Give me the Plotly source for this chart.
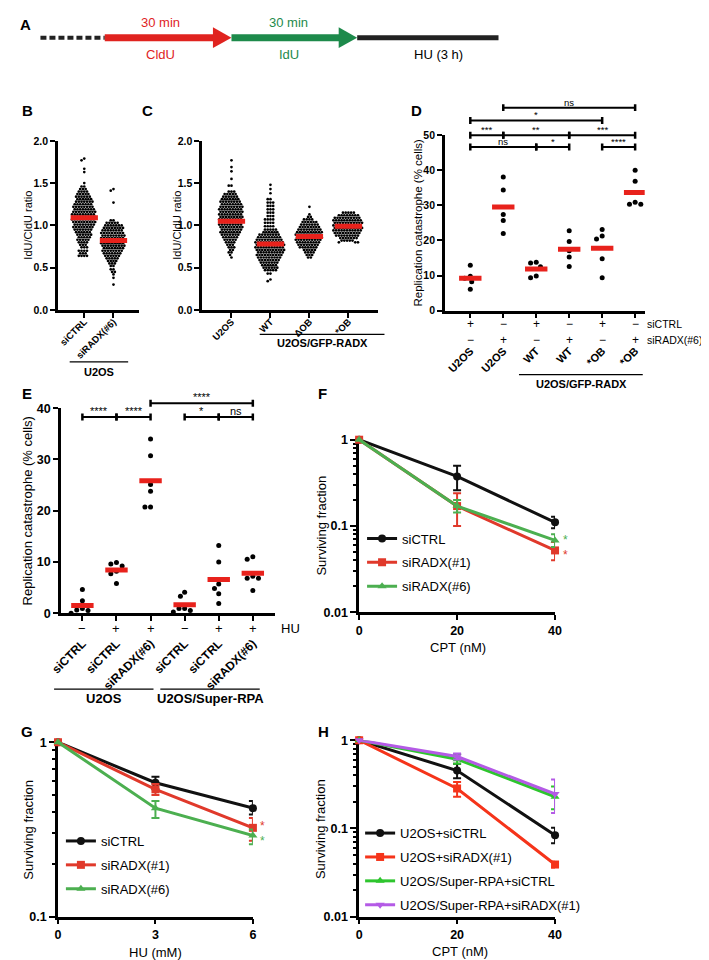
import numpy as np
import plotly.graph_objects as go

W, H = 709, 960
FONT = "Arial, Liberation Sans, Helvetica, sans-serif"

# ======================= DATA =======================
# Panel A - labelling scheme
A_pulse_names = ["CldU", "IdU", "HU (3 h)"]
A_pulse_times = ["30 min", "30 min"]

# Panel B - IdU/CldU ratio, rows of the dot plot: (ratio, number of fibres in the row)
B_categories = ["siCTRL", "siRADX(#6)"]
B_group = "U2OS"
B_siCTRL_rows = [(1.79, 1), (1.77, 1), (1.67, 1), (1.63, 1), (1.50, 1), (1.46, 2), (1.43, 3), (1.40, 4),
                 (1.37, 5), (1.34, 6), (1.31, 6), (1.28, 7), (1.25, 7), (1.22, 8), (1.19, 8), (1.16, 9),
                 (1.13, 9), (1.10, 9), (1.07, 9), (1.04, 9), (1.01, 8), (0.98, 8), (0.95, 7), (0.92, 6),
                 (0.89, 6), (0.86, 5), (0.83, 5), (0.80, 4), (0.77, 3), (0.74, 3), (0.70, 4), (0.67, 3),
                 (0.64, 4)]
B_siRADX6_rows = [(1.43, 1), (1.41, 1), (1.27, 1), (1.06, 2), (1.03, 5), (1.00, 7), (0.97, 8), (0.94, 8),
                  (0.91, 9), (0.88, 9), (0.85, 9), (0.82, 9), (0.79, 9), (0.76, 9), (0.73, 8), (0.70, 8),
                  (0.67, 7), (0.64, 6), (0.61, 5), (0.58, 4), (0.55, 3), (0.52, 2), (0.48, 2), (0.45, 2),
                  (0.42, 1), (0.38, 1), (0.30, 1)]
B_means = [1.09, 0.82]

# Panel C
C_categories = ["U2OS", "WT", "ΔOB", "*OB"]
C_group = "U2OS/GFP-RADX"
C_U2OS_rows = [(1.77, 1), (1.69, 1), (1.64, 1), (1.55, 1), (1.47, 2), (1.40, 3), (1.37, 5), (1.34, 6),
               (1.31, 7), (1.28, 8), (1.25, 8), (1.22, 9), (1.19, 9), (1.16, 9), (1.13, 9), (1.10, 9),
               (1.07, 9), (1.04, 9), (1.01, 9), (0.98, 9), (0.95, 8), (0.92, 8), (0.89, 7), (0.86, 6),
               (0.83, 5), (0.80, 4), (0.77, 3), (0.74, 3), (0.71, 2), (0.68, 2), (0.65, 1), (0.62, 1)]
C_WT_rows = [(1.48, 1), (1.43, 1), (1.38, 1), (1.31, 2), (1.27, 3), (1.23, 3), (1.19, 3), (1.15, 3),
             (1.11, 3), (1.07, 4), (1.03, 4), (0.99, 4), (0.95, 5), (0.92, 6), (0.89, 8), (0.86, 9),
             (0.83, 10), (0.80, 11), (0.77, 11), (0.74, 11), (0.71, 11), (0.68, 10), (0.65, 10), (0.62, 9),
             (0.59, 8), (0.56, 7), (0.53, 6), (0.50, 6), (0.47, 5), (0.43, 2), (0.36, 1), (0.34, 1)]
C_dOB_rows = [(1.22, 1), (1.13, 1), (1.10, 2), (1.07, 4), (1.04, 6), (1.01, 7), (0.98, 8), (0.95, 9),
              (0.92, 10), (0.89, 10), (0.86, 10), (0.83, 10), (0.80, 9), (0.77, 8), (0.74, 7), (0.71, 5),
              (0.68, 4), (0.65, 3), (0.62, 2)]
C_sOB_rows = [(1.15, 5), (1.12, 8), (1.09, 10), (1.06, 11), (1.03, 11), (1.00, 11), (0.97, 11), (0.94, 11),
              (0.91, 10), (0.88, 9), (0.85, 7), (0.82, 5), (0.80, 3)]
C_means = [1.05, 0.78, 0.87, 0.99]

# Panel D - replication catastrophe (% cells)
D_categories = ["U2OS", "U2OS", "WT", "WT", "*OB", "*OB"]
D_group = "U2OS/GFP-RADX"
D_siCTRL = ["+", "−", "+", "−", "+", "−"]
D_siRADX6 = ["−", "+", "−", "+", "−", "+"]
D_U2OS_ctrl = [12.9, 9.8, 9.2, 8.2, 6.1]
D_U2OS_radx = [38.1, 34.4, 27.4, 25.7, 22.0]
D_WT_ctrl = [13.6, 13.8, 12.5, 9.9, 9.4]
D_WT_radx = [22.8, 19.7, 17.1, 15.3, 12.6]
D_sOB_ctrl = [23.1, 21.3, 20.4, 14.8, 9.4]
D_sOB_radx = [40.0, 36.9, 30.9, 30.3, 30.3]
D_sig_pairs = [(0, 1), (1, 3), (3, 5), (0, 2), (2, 3), (4, 5), (0, 4), (1, 5)]
D_sig_labels = ["***", "**", "***", "ns", "*", "****", "*", "ns"]
D_sig_tier = [1, 1, 1, 0, 0, 0, 2, 3]

# Panel E
E_categories = ["siCTRL", "siCTRL", "siRADX(#6)", "siCTRL", "siCTRL", "siRADX(#6)"]
E_HU = ["−", "+", "+", "−", "+", "+"]
E_groups = ["U2OS", "U2OS/Super-RPA"]
E_U2OS_ctrl_noHU = [4.6, 2.4, 0.9, 0.6, 0.5, 0.0]
E_U2OS_ctrl_HU = [9.9, 9.6, 9.2, 8.2, 7.7, 5.8]
E_U2OS_radx_HU = [34.0, 30.7, 25.1, 23.8, 20.7, 20.7]
E_SRPA_ctrl_noHU = [4.1, 3.3, 0.9, 0.9, 0.5, 0.2]
E_SRPA_ctrl_HU = [13.2, 10.0, 5.7, 4.8, 3.8, 1.9]
E_SRPA_radx_HU = [11.0, 10.5, 7.2, 6.8, 6.8, 4.4]
E_sig_pairs = [(2, 5), (0, 1), (1, 2), (3, 4), (4, 5)]
E_sig_labels = ["****", "****", "****", "*", "ns"]
E_sig_tier = [1, 0, 0, 0, 0]

# Panel F - clonogenic survival, CPT
F_dose = [0, 20, 40]
F_siCTRL = [1, 0.375, 0.11]
F_siCTRL_up = [0, 0.125, 0.018]
F_siCTRL_dn = [0, 0.115, 0.016]
F_siRADX1 = [1, 0.17, 0.052]
F_siRADX1_up = [0, 0.07, 0.013]
F_siRADX1_dn = [0, 0.07, 0.012]
F_siRADX6 = [1, 0.17, 0.068]
F_siRADX6_up = [0, 0.03, 0.012]
F_siRADX6_dn = [0, 0.027, 0.011]
F_names = ["siCTRL", "siRADX(#1)", "siRADX(#6)"]

# Panel G - clonogenic survival, HU
G_dose = [0, 3, 6]
G_siCTRL = [1, 0.586, 0.419]
G_siCTRL_up = [0, 0.048, 0.042]
G_siCTRL_dn = [0, 0.049, 0.034]
G_siRADX1 = [1, 0.537, 0.323]
G_siRADX1_up = [0, 0.04, 0.045]
G_siRADX1_dn = [0, 0.038, 0.051]
G_siRADX6 = [1, 0.419, 0.292]
G_siRADX6_up = [0, 0.042, 0.024]
G_siRADX6_dn = [0, 0.051, 0.032]
G_names = ["siCTRL", "siRADX(#1)", "siRADX(#6)"]

# Panel H - clonogenic survival, CPT, Super-RPA
H_dose = [0, 20, 40]
H_U2OS_ctrl = [1, 0.454, 0.084]
H_U2OS_ctrl_up = [0, 0.086, 0.018]
H_U2OS_ctrl_dn = [0, 0.084, 0.016]
H_U2OS_radx = [1, 0.284, 0.039]
H_U2OS_radx_up = [0, 0.052, 0.003]
H_U2OS_radx_dn = [0, 0.055, 0.003]
H_SRPA_ctrl = [1, 0.61, 0.229]
H_SRPA_ctrl_up = [0, 0.09, 0.071]
H_SRPA_ctrl_dn = [0, 0.07, 0.064]
H_SRPA_radx = [1, 0.655, 0.246]
H_SRPA_radx_up = [0, 0.055, 0.114]
H_SRPA_radx_dn = [0, 0.05, 0.096]
H_names = ["U2OS+siCTRL", "U2OS+siRADX(#1)", "U2OS/Super-RPA+siCTRL", "U2OS/Super-RPA+siRADX(#1)"]

# ======================= LAYOUT / STYLE =======================
RED_BAR = "#e8221c"
P = {
    "B": dict(n=1, x=(40, 123), y=(299.3, 127.7), xr=[-0.9, 1.87], yr=[0, 2.0]),
    "C": dict(n=2, x=(188, 368), y=(299.3, 127.7), xr=[-0.75, 3.75], yr=[0, 2.0]),
    "D": dict(n=3, x=(437, 642), y=(300, 122), xr=[-0.77, 5.29], yr=[0, 50]),
    "E": dict(n=4, x=(43, 263), y=(607, 399), xr=[-0.63, 5.66], yr=[0, 40]),
    "F": dict(n=5, x=(349, 550), y=(606, 431), xr=[0, 40], yr=[-2, 0]),
    "G": dict(n=6, x=(40, 240), y=(915, 738), xr=[0, 6], yr=[-1, 0]),
    "H": dict(n=7, x=(349, 550), y=(915, 736), xr=[0, 40], yr=[-2, 0]),
}


def ax(n, c):
    return c if n == 1 else f"{c}{n}"


def xs(p):
    return (p["x"][1] - p["x"][0]) / (p["xr"][1] - p["xr"][0])


def ys(p):
    return (p["y"][0] - p["y"][1]) / (p["yr"][1] - p["yr"][0])


def fnt(size, bold=False, color="black"):
    return dict(family=FONT, size=size, color=color, weight="bold" if bold else "normal")


layout = dict(width=W, height=H, margin=dict(l=0, r=0, t=0, b=0, pad=0),
              paper_bgcolor="white", plot_bgcolor="rgba(0,0,0,0)",
              font=dict(family=FONT, color="black", size=12), hovermode=False,
              shapes=[], annotations=[])


def base_axis():
    return dict(showline=True, linecolor="black", linewidth=2.5, ticks="outside",
                tickcolor="black", tickwidth=2, ticklen=5, showgrid=False,
                zeroline=False, fixedrange=True, layer="below traces")


for key, p in P.items():
    n = p["n"]
    xa = base_axis()
    ya = base_axis()
    xa.update(domain=[p["x"][0] / W, p["x"][1] / W], range=p["xr"], anchor=ax(n, "y"))
    ya.update(domain=[1 - p["y"][0] / H, 1 - p["y"][1] / H], range=p["yr"], anchor=ax(n, "x"))
    layout["xaxis" if n == 1 else f"xaxis{n}"] = xa
    layout["yaxis" if n == 1 else f"yaxis{n}"] = ya


def xaxis(key):
    n = P[key]["n"]
    return layout["xaxis" if n == 1 else f"xaxis{n}"]


def yaxis(key):
    n = P[key]["n"]
    return layout["yaxis" if n == 1 else f"yaxis{n}"]


# ---- axis specifics ----
for k, cats in (("B", B_categories), ("C", C_categories)):
    xaxis(k).update(tickvals=list(range(len(cats))), ticktext=cats, tickangle=-45,
                    tickfont=fnt(9.5, True), ticklabelstandoff=-5)
    yaxis(k).update(tick0=0, dtick=0.5, tickformat=".1f", tickfont=fnt(10.5, True))
xaxis("D").update(tickvals=list(range(6)), ticktext=D_categories, tickangle=-45,
                  tickfont=fnt(11, True), ticklabelstandoff=22)
yaxis("D").update(tick0=0, dtick=10, tickfont=fnt(10.5, True))
xaxis("E").update(tickvals=list(range(6)), ticktext=E_categories, tickangle=-45,
                  tickfont=fnt(12, True), ticklabelstandoff=11)
yaxis("E").update(tick0=0, dtick=10, tickfont=fnt(12.5, True))
for k, dose in (("F", F_dose), ("G", G_dose), ("H", H_dose)):
    xaxis(k).update(tickvals=dose, ticktext=[str(d) for d in dose], tickfont=fnt(12.5, True))
for k in ("F", "H"):
    yaxis(k).update(type="log", tickvals=[0.01, 0.1, 1], ticktext=["0.01", "0.1", "1"],
                    tickfont=fnt(12.5, True), ticklen=6,
                    minor=dict(ticks="outside", ticklen=3.5, tickwidth=2, tickcolor="black",
                               tickvals=[0.02, 0.03, 0.04, 0.05, 0.06, 0.07, 0.08, 0.09,
                                         0.2, 0.3, 0.4, 0.5, 0.6, 0.7, 0.8, 0.9]))
yaxis("G").update(type="log", tickvals=[0.1, 1], ticktext=["0.1", "1"], tickfont=fnt(12.5, True), ticklen=6,
                  minor=dict(ticks="outside", ticklen=3.5, tickwidth=2, tickcolor="black",
                             tickvals=[0.2, 0.3, 0.4, 0.5, 0.6, 0.7, 0.8, 0.9]))

fig = go.Figure()


# ---- beeswarm dot plots ----
def swarm_offsets(ypx, d):
    step = d / 4.0
    cands = sorted([j * step for j in range(-300, 301)], key=lambda v: (abs(v), v))
    order = np.argsort(ypx, kind="stable")
    placed = []
    offs = np.zeros(len(ypx))
    for i in order:
        y = ypx[i]
        near = [(ox, oy) for ox, oy in placed if abs(oy - y) < d]
        for c in cands:
            if all((c - ox) ** 2 + (y - oy) ** 2 >= d * d - 1e-9 for ox, oy in near):
                offs[i] = c
                break
        placed.append((offs[i], y))
    return offs


def add_dotplot(key, groups, means, d, msize, half_px, bar_w):
    p = P[key]
    n = p["n"]
    for gi, vals in enumerate(groups):
        vals = np.asarray(vals, dtype=float)
        offs = swarm_offsets(list(-vals * ys(p)), d)
        fig.add_trace(go.Scatter(x=gi + offs / xs(p), y=vals, mode="markers",
                                 marker=dict(size=msize, color="black"), cliponaxis=False,
                                 xaxis=ax(n, "x"), yaxis=ax(n, "y"), showlegend=False))
    bx, by = [], []
    for gi, m in enumerate(means):
        bx += [gi - half_px / xs(p), gi + half_px / xs(p), None]
        by += [m, m, None]
    fig.add_trace(go.Scatter(x=bx, y=by, mode="lines", line=dict(color=RED_BAR, width=bar_w),
                             cliponaxis=False, xaxis=ax(n, "x"), yaxis=ax(n, "y"), showlegend=False))


def expand(rows):
    return [v for v, c in rows for _ in range(c)]


add_dotplot("B", [expand(B_siCTRL_rows), expand(B_siRADX6_rows)], B_means, 2.8, 2.7, 14, 5)
add_dotplot("C", [expand(C_U2OS_rows), expand(C_WT_rows), expand(C_dOB_rows), expand(C_sOB_rows)],
            C_means, 2.8, 2.7, 14, 5)
D_groups = [D_U2OS_ctrl, D_U2OS_radx, D_WT_ctrl, D_WT_radx, D_sOB_ctrl, D_sOB_radx]
add_dotplot("D", D_groups, [float(np.mean(g)) for g in D_groups], 5.8, 5, 11.5, 5)
E_groups_vals = [E_U2OS_ctrl_noHU, E_U2OS_ctrl_HU, E_U2OS_radx_HU, E_SRPA_ctrl_noHU, E_SRPA_ctrl_HU, E_SRPA_radx_HU]
add_dotplot("E", E_groups_vals, [float(np.mean(g)) for g in E_groups_vals], 5.8, 5, 11.5, 5)


# ---- survival curves ----
def add_curves(key, dose, series, names, colors, symbols, legend):
    n = P[key]["n"]
    for (vals, up, dn), name, c, s in zip(series, names, colors, symbols):
        fig.add_trace(go.Scatter(
            x=dose, y=vals, mode="lines+markers", name=name, legendgroup=name, legend=legend,
            line=dict(color=c, width=3), marker=dict(symbol=s, size=8, color=c),
            error_y=dict(type="data", array=up, arrayminus=dn, color=c, thickness=2, width=4, visible=True),
            cliponaxis=False, xaxis=ax(n, "x"), yaxis=ax(n, "y")))


add_curves("F", F_dose, [(F_siCTRL, F_siCTRL_up, F_siCTRL_dn), (F_siRADX1, F_siRADX1_up, F_siRADX1_dn),
                         (F_siRADX6, F_siRADX6_up, F_siRADX6_dn)], F_names,
           ["#111111", "#e0392b", "#4caf50"], ["circle", "square", "triangle-up"], "legend")
add_curves("G", G_dose, [(G_siCTRL, G_siCTRL_up, G_siCTRL_dn), (G_siRADX1, G_siRADX1_up, G_siRADX1_dn),
                         (G_siRADX6, G_siRADX6_up, G_siRADX6_dn)], G_names,
           ["#111111", "#e0392b", "#4caf50"], ["circle", "square", "triangle-up"], "legend2")
add_curves("H", H_dose, [(H_U2OS_ctrl, H_U2OS_ctrl_up, H_U2OS_ctrl_dn), (H_U2OS_radx, H_U2OS_radx_up, H_U2OS_radx_dn),
                         (H_SRPA_ctrl, H_SRPA_ctrl_up, H_SRPA_ctrl_dn), (H_SRPA_radx, H_SRPA_radx_up, H_SRPA_radx_dn)],
           H_names, ["#111111", "#f5341a", "#2ec52e", "#b45ae6"],
           ["circle", "square", "triangle-up", "triangle-down"], "legend3")

leg = dict(xanchor="left", yanchor="top", bgcolor="rgba(0,0,0,0)", font=fnt(13),
           tracegroupgap=4, traceorder="grouped", itemwidth=30)
layout["legend"] = dict(leg, x=352 / W, y=1 - 516 / H)
layout["legend2"] = dict(leg, x=43 / W, y=1 - 823 / H)
layout["legend3"] = dict(leg, x=350 / W, y=1 - 815 / H)


# ---- helpers for text / lines in pixel space ----
def text(x, y, s, size=12, bold=False, color="black", xanchor="center", yanchor="middle", angle=0,
         xref="paper", yref="paper", xshift=0, yshift=0):
    layout["annotations"].append(dict(
        x=x / W if xref == "paper" else x, y=1 - y / H if yref == "paper" else y,
        xref=xref, yref=yref, text=s, showarrow=False, font=fnt(size, bold, color),
        xanchor=xanchor, yanchor=yanchor, textangle=angle, xshift=xshift, yshift=yshift,
        borderpad=0))


def line_px(x0, y0, x1, y1, w=1.5, color="black", dash=None):
    ln = dict(color=color, width=w)
    if dash:
        ln["dash"] = dash
    layout["shapes"].append(dict(type="line", xref="paper", yref="paper", x0=x0 / W, x1=x1 / W,
                                 y0=1 - y0 / H, y1=1 - y1 / H, line=ln))


def tri_px(pts, color):
    path = "M " + " L ".join(f"{x / W},{1 - y / H}" for x, y in pts) + " Z"
    layout["shapes"].append(dict(type="path", xref="paper", yref="paper", path=path,
                                 fillcolor=color, line=dict(color=color, width=0)))


# ---- panel A scheme ----
A_RED, A_GREEN = "#e0231f", "#1d8a4b"
line_px(22, 23, 88, 23, w=4, color="#222222", dash="6px,3px")
line_px(88, 23, 202, 23, w=7, color=A_RED)
tri_px([(199, 12.5), (218, 23), (199, 33.5)], A_RED)
line_px(218, 23, 331, 23, w=7, color=A_GREEN)
tri_px([(328, 12.5), (347, 23), (328, 33.5)], A_GREEN)
line_px(347, 23, 492, 23, w=5, color="#222222")
text(145, 8, A_pulse_times[0], 13, color=A_RED)
text(277, 8, A_pulse_times[1], 13, color=A_GREEN)
text(145, 40, A_pulse_names[0], 13, color=A_RED)
text(277, 40, A_pulse_names[1], 13, color=A_GREEN)
text(430, 40, A_pulse_names[2], 13)

# ---- panel letters ----
for lab, x, y in (("A", 7, 10), ("B", 9, 97), ("C", 132, 97), ("D", 408, 97),
                  ("E", 8, 384), ("F", 311, 384), ("G", 8, 727), ("H", 312, 727)):
    text(x, y, lab, 15, True)

# ---- y-axis titles ----
text(9, 213, "IdU/CldU ratio", 11, angle=-90)
text(162, 213, "IdU/CldU ratio", 11, angle=-90)
text(409, 211, "Replication catastrophe (% cells)", 11.5, angle=-90)
text(9, 503, "Replication catastrophe (% cells)", 13, angle=-90)
text(310, 518, "Surviving fraction", 13, angle=-90)
text(10, 827, "Surviving fraction", 13, angle=-90)
text(310, 826, "Surviving fraction", 13, angle=-90)

# ---- x-axis titles ----
text(450, 642, "CPT (nM)", 13)
text(140, 951, "HU (mM)", 13)
text(452, 950, "CPT (nM)", 13)

# ---- group labels under axes ----
line_px(52, 352, 112, 352, w=1.3)
text(82, 362, B_group, 11, True)
line_px(247, 324, 375, 324, w=1.3)
text(311, 333, C_group, 11, True)
line_px(513, 365, 640, 365, w=1.3)
text(577, 374, D_group, 11, True)
line_px(36, 684, 138, 684, w=1.3)
text(87, 694, E_groups[0], 13, True)
line_px(145, 684, 247, 684, w=1.3)
text(196, 694, E_groups[1], 13, True)

# ---- D: +/- rows ----
for i, (a, b) in enumerate(zip(D_siCTRL, D_siRADX6)):
    text(i, 314, a, 12, xref="x3")
    text(i, 330, b, 12, xref="x3")
text(643, 314, "siCTRL", 10.5, xanchor="left")
text(643, 330, "siRADX(#6)", 10.5, xanchor="left")

# ---- E: HU row ----
for i, s in enumerate(E_HU):
    text(i, 623, s, 13, xref="x4")
text(268, 623, "HU", 13, xanchor="left")


# ---- significance brackets ----
def brackets(key, pairs, labels, tiers, tier_px, fs):
    xr = ax(P[key]["n"], "x")
    for (a, b), lab, t in zip(pairs, labels, tiers):
        y = tier_px[t]
        layout["shapes"].append(dict(type="line", xref=xr, yref="paper", x0=a, x1=b,
                                     y0=1 - y / H, y1=1 - y / H, line=dict(width=2, color="black")))
        for c in (a, b):
            layout["shapes"].append(dict(type="line", xref=xr, yref="paper", x0=c, x1=c,
                                         y0=1 - (y - 3.5) / H, y1=1 - (y + 3.5) / H,
                                         line=dict(width=2.5, color="black")))
        layout["annotations"].append(dict(x=(a + b) / 2, y=1 - y / H, xref=xr, yref="paper", text=lab,
                                          showarrow=False, yanchor="bottom", yshift=-2, font=fnt(fs)))


brackets("D", D_sig_pairs, D_sig_labels, D_sig_tier, [134, 122, 107, 94], 9.5)
brackets("E", E_sig_pairs, E_sig_labels, E_sig_tier, [408, 394], 11)

# ---- significance asterisks on survival curves ----
text(40, float(np.log10(F_siRADX6[-1])), "*", 12, color="#4caf50", xref="x5", yref="y5", xshift=10, yshift=0)
text(40, float(np.log10(F_siRADX1[-1])), "*", 12, color="#e0392b", xref="x5", yref="y5", xshift=10, yshift=-5)
text(6, float(np.log10(G_siRADX1[-1])), "*", 12, color="#e0392b", xref="x6", yref="y6", xshift=10, yshift=2)
text(6, float(np.log10(G_siRADX6[-1])), "*", 12, color="#4caf50", xref="x6", yref="y6", xshift=10, yshift=-6)

fig.update_layout(**layout)
fig.write_html("out.html")
